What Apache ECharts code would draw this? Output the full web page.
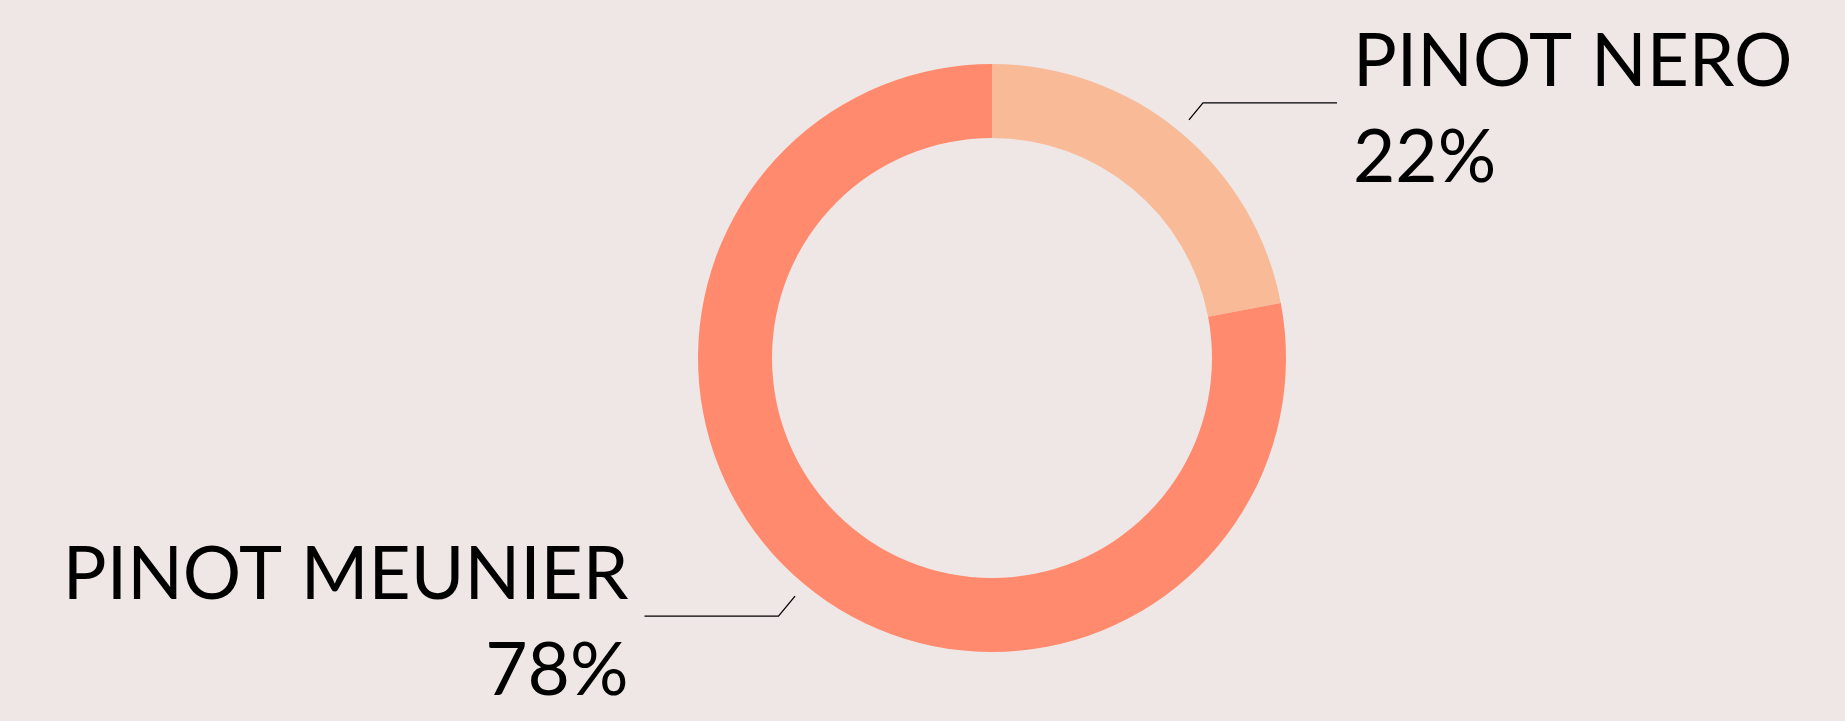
<!DOCTYPE html>
<html>
<head>
<meta charset="utf-8">
<style>
  html, body { margin: 0; padding: 0; background: #EFE7E5; }
  #chart { width: 1845px; height: 721px; }
</style>
<script src="https://cdn.jsdelivr.net/npm/echarts@6/dist/echarts.min.js"></script>
</head>
<body>
<div id="chart"></div>
<script>
// Grape varieties and their share (%)
const varieties = ['PINOT NERO', 'PINOT MEUNIER'];
const shares = [22, 78];
const colors = ['#F9BA98', '#FF8A6E'];
// first (radial) segment of each leader line, px
const leaderLen = [22, 26];

const chart = echarts.init(document.getElementById('chart'));

const ringData = varieties.map((name, i) => ({
  name: name,
  value: shares[i],
  itemStyle: { color: colors[i] }
}));

const labelData = varieties.map((name, i) => ({
  name: name,
  value: shares[i],
  labelLine: { length: leaderLen[i] }
}));

const textFont = 'Lato, "Open Sans", sans-serif';

chart.setOption({
  backgroundColor: '#EFE7E5',
  animation: false,
  series: [
    {
      type: 'pie',
      center: [992, 358],
      radius: [220, 294],
      startAngle: 90,
      clockwise: true,
      silent: true,
      label: { show: false },
      labelLine: { show: false },
      data: ringData
    },
    {
      // transparent ring carrying the outside labels and leader lines
      type: 'pie',
      center: [992, 358],
      radius: [308, 309],
      startAngle: 90,
      clockwise: true,
      silent: true,
      avoidLabelOverlap: false,
      itemStyle: { color: 'rgba(0,0,0,0)' },
      label: {
        show: true,
        position: 'outside',
        distanceToLabelLine: 16,
        padding: [14, 0, 0, 0],
        formatter: '{n|{b}}\n{p|{c}%}',
        rich: {
          n: { fontFamily: textFont, fontSize: 73, lineHeight: 96, color: '#000' },
          p: { fontFamily: textFont, fontSize: 73, lineHeight: 96, color: '#000' }
        }
      },
      labelLine: {
        show: true,
        length: 26,
        length2: 134,
        lineStyle: { color: '#000', width: 1.3 }
      },
      data: labelData
    }
  ]
});
</script>
</body>
</html>
